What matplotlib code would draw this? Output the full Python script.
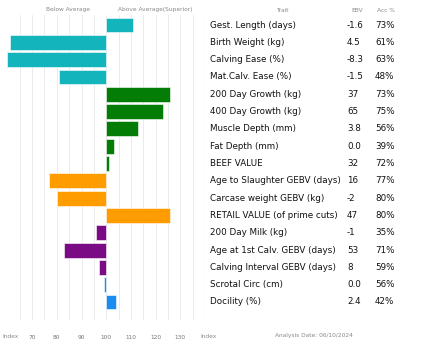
import matplotlib
matplotlib.use("Agg")
import matplotlib.pyplot as plt
from matplotlib.transforms import blended_transform_factory

# ---- data ----
traits = ["Gest. Length (days)", "Birth Weight (kg)", "Calving Ease (%)", "Mat.Calv. Ease (%)",
          "200 Day Growth (kg)", "400 Day Growth (kg)", "Muscle Depth (mm)", "Fat Depth (mm)",
          "BEEF VALUE", "Age to Slaughter GEBV (days)", "Carcase weight GEBV (kg)",
          "RETAIL VALUE (of prime cuts)", "200 Day Milk (kg)", "Age at 1st Calv. GEBV (days)",
          "Calving Interval GEBV (days)", "Scrotal Circ (cm)", "Docility (%)"]
ebv = ["-1.6", "4.5", "-8.3", "-1.5", "37", "65", "3.8", "0.0", "32", "16", "-2", "47",
       "-1", "53", "8", "0.0", "2.4"]
acc = ["73%", "61%", "63%", "48%", "73%", "75%", "56%", "39%", "72%", "77%", "80%", "80%",
       "35%", "71%", "59%", "56%", "42%"]
index = [111, 61, 60, 81, 126, 123, 113, 103, 101, 77, 80, 126, 96, 83, 97, 99, 104]
groups = ["teal"] * 4 + ["green"] * 5 + ["orange"] * 3 + ["purple"] * 3 + ["blue"] * 2
tick_vals = [70, 80, 90, 100, 110, 120, 130]

palette = {"teal": "#14b4bc", "green": "#037d06", "orange": "#ff9c00",
           "purple": "#7b0b84", "blue": "#1a8ef0"}

W, H = 435, 347
fig = plt.figure(figsize=(W / 100, H / 100), dpi=100)

# axes in pixel coords: x 0..205, y 15..320 (from top)
ax = fig.add_axes([0 / W, 1 - 320 / H, 205 / W, 305 / H])
n = len(traits)
ys = list(range(n))
for y, v, g in zip(ys, index, groups):
    ax.barh(y, v - 100, left=100, height=0.86, color=palette[g],
            edgecolor="white", linewidth=0.4, zorder=3)

ax.set_xlim(57, 140)
ax.set_ylim(n - 1 + 1.04, -0.58)
for gx in range(65, 140, 5):
    ax.axvline(gx, color="#e8e8e8", linewidth=0.6, zorder=1)
ax.axvline(139.8, color="#d4d4d4", linewidth=0.8, zorder=1)
for s in ax.spines.values():
    s.set_visible(False)
ax.set_yticks([])
ax.set_xticks(tick_vals)
ax.set_xticklabels([str(t) for t in tick_vals], fontsize=4.2, color="#777777")
ax.tick_params(axis="x", length=0, pad=11)

grey = "#888888"
fig.text(68 / W, 1 - 10 / H, "Below Average", fontsize=4.2, color=grey, ha="center", va="center")
fig.text(155 / W, 1 - 10 / H, "Above Average(Superior)", fontsize=4.2, color=grey,
         ha="center", va="center")
fig.text(282 / W, 1 - 10 / H, "Trait", fontsize=4.2, color=grey, ha="center", va="center")
fig.text(357 / W, 1 - 10 / H, "EBV", fontsize=4.2, color=grey, ha="center", va="center")
fig.text(386 / W, 1 - 10 / H, "Acc %", fontsize=4.2, color=grey, ha="center", va="center")

# table text
tr = blended_transform_factory(fig.transFigure, ax.transData)
for y, t, e, a in zip(ys, traits, ebv, acc):
    ax.text(210 / W, y, t, transform=tr, fontsize=6.3, color="#111111", va="center")
    ax.text(347 / W, y, e, transform=tr, fontsize=6.3, color="#111111", va="center")
    ax.text(375 / W, y, a, transform=tr, fontsize=6.3, color="#111111", va="center")

fig.text(2 / W, 1 - 336 / H, "Index", fontsize=4.2, color=grey, ha="left", va="center")
fig.text(200 / W, 1 - 336 / H, "Index", fontsize=4.2, color=grey, ha="left", va="center")
fig.text(314 / W, 1 - 336 / H, "Analysis Date: 06/10/2024", fontsize=4.2, color=grey,
         ha="center", va="center")

fig.savefig("out.png", dpi=100)
